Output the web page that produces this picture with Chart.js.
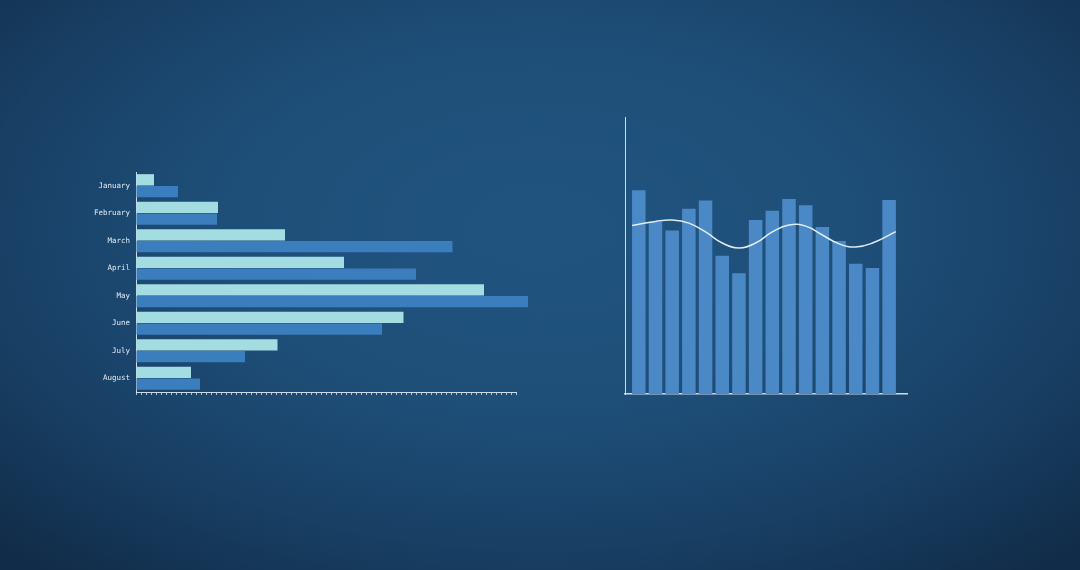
<!DOCTYPE html>
<html>
<head>
<meta charset="utf-8">
<script src="https://cdn.jsdelivr.net/npm/chart.js@4/dist/chart.umd.min.js"></script>
<style>
  html, body { margin: 0; padding: 0; }
  body {
    width: 1080px; height: 570px; overflow: hidden; position: relative;
    background: radial-gradient(ellipse 72% 78% at 50% 40%, #20547f 0%, #1e4f79 40%, #183f64 72%, #112c48 100%);
  }
  .box { position: absolute; }
  #left-box { left: 40px; top: 150px; width: 500px; height: 260px; }
  #right-box { left: 580px; top: 100px; width: 360px; height: 310px; }
</style>
</head>
<body>
<div class="box" id="left-box"><canvas id="months"></canvas></div>
<div class="box" id="right-box"><canvas id="periods"></canvas></div>
<script>
// left chart: two series per month
const months = ["January", "February", "March", "April", "May", "June", "July", "August"];
const seriesA = [3.6, 16.4, 29.8, 41.6, 69.6, 53.5, 28.3, 11.0];
const seriesB = [8.4, 16.2, 63.3, 56.0, 78.4, 49.2, 21.8, 12.8];
const monthsMax = 76;

// right chart: 16 bars and a smooth trend line
const periods = [1, 2, 3, 4, 5, 6, 7, 8, 9, 10, 11, 12, 13, 14, 15, 16];
const barValues = [73.6, 62.2, 59.0, 66.9, 69.9, 49.9, 43.6, 62.8, 66.2, 70.4, 68.1, 60.3, 55.2, 47.0, 45.5, 70.0];
const trendX = [0.6, 2, 3, 4, 5, 6, 7, 8, 9, 10, 11, 12, 13, 14, 15, 16.4];
const trendValues = [60.8, 62.3, 62.8, 61.7, 58.5, 54.5, 52.7, 54.5, 58.5, 61.0, 60.6, 57.4, 54.2, 53.1, 54.5, 58.6];

const lightBar = '#a3dce1';
const darkBar = '#3a7ebe';
const midBar = '#4a89c6';
const axisColor = 'rgba(225,236,245,0.9)';

Chart.defaults.animation = false;
Chart.defaults.font.family = '"DejaVu Sans Mono", monospace';

new Chart("months", {
  type: "bar",
  data: {
    labels: months,
    datasets: [
      { data: seriesA, backgroundColor: lightBar, borderWidth: 0, clip: false },
      { data: seriesB, backgroundColor: darkBar, borderWidth: 0, clip: false }
    ]
  },
  options: {
    indexAxis: 'y',
    responsive: true,
    maintainAspectRatio: false,
    layout: { padding: { top: 22, right: 24, left: 0, bottom: 0 } },
    datasets: { bar: { barPercentage: 0.96, categoryPercentage: 0.86 } },
    plugins: { legend: { display: false }, tooltip: { enabled: false } },
    scales: {
      x: {
        min: 0,
        max: monthsMax,
        ticks: { display: false, stepSize: 1, maxTicksLimit: 200 },
        grid: { drawOnChartArea: false, drawTicks: true, tickLength: 3, color: 'rgba(220,234,245,0.75)', lineWidth: 1 },
        border: { color: axisColor, width: 1 },
        afterFit: function(scale) { scale.height = 18; }
      },
      y: {
        ticks: { color: '#e3ecf3', font: { size: 7.5 }, padding: 6 },
        grid: { display: false, drawTicks: false },
        border: { color: axisColor, width: 1 },
        afterFit: function(scale) { scale.width = 96; }
      }
    }
  }
});

new Chart("periods", {
  type: "bar",
  data: {
    datasets: [
      {
        type: 'line',
        data: trendX.map((x, i) => ({ x: x, y: trendValues[i] })),
        borderColor: 'rgba(232,242,250,0.95)',
        borderWidth: 1.5,
        pointRadius: 0,
        tension: 0.45,
        fill: false,
        order: 0
      },
      {
        type: 'bar',
        data: periods.map((p, i) => ({ x: p, y: barValues[i] })),
        backgroundColor: midBar,
        borderWidth: 0,
        barPercentage: 0.81,
        categoryPercentage: 1,
        order: 1
      }
    ]
  },
  options: {
    responsive: true,
    maintainAspectRatio: false,
    layout: { padding: { top: 17, right: 33, left: 0, bottom: 0 } },
    plugins: { legend: { display: false }, tooltip: { enabled: false } },
    scales: {
      x: {
        type: 'linear',
        offset: false,
        min: 0.173,
        max: 17.07,
        ticks: { display: false },
        afterBuildTicks: function(scale) { scale.ticks = periods.map(p => ({ value: p })); },
        grid: { display: false },
        border: { color: axisColor, width: 1.5 },
        afterFit: function(scale) { scale.height = 16; }
      },
      y: {
        min: 0,
        max: 100,
        ticks: { display: false },
        grid: { display: false },
        border: { color: axisColor, width: 1 },
        afterFit: function(scale) { scale.width = 45; }
      }
    }
  }
});
</script>
</body>
</html>
